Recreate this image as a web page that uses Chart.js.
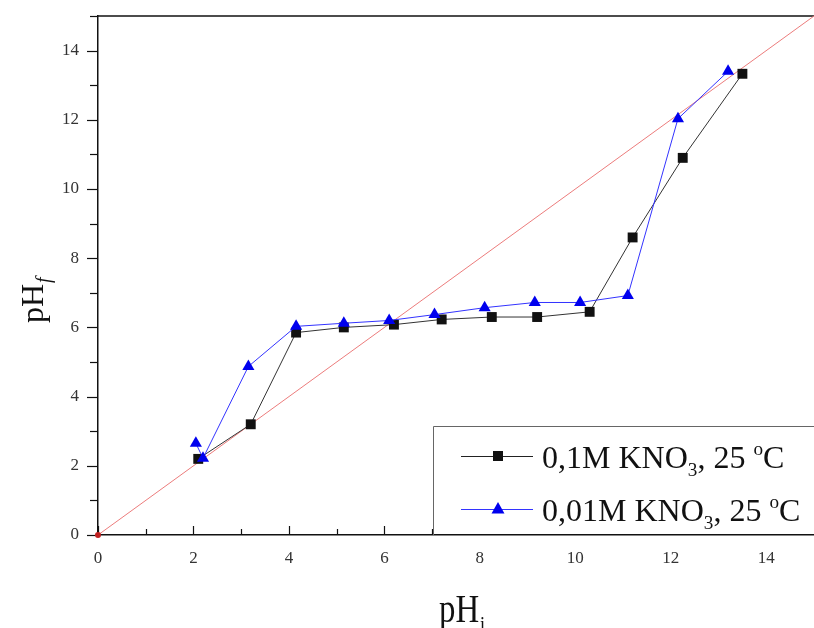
<!DOCTYPE html>
<html>
<head>
<meta charset="utf-8">
<script src="https://cdn.jsdelivr.net/npm/chart.js@4.4.1/dist/chart.umd.min.js"></script>
<style>
  html, body { margin: 0; padding: 0; background: #fff; }
  canvas { display: block; }
</style>
</head>
<body>
<canvas id="chart1" width="814" height="628"></canvas>
<script>
// 0,1M KNO3 series (initial pH -> final pH)
const phInitialA = [2.1, 3.2, 4.15, 5.15, 6.2, 7.2, 8.25, 9.2, 10.3, 11.2, 12.25, 13.5];
const phFinalA   = [2.2, 3.2, 5.85, 6.0, 6.08, 6.23, 6.3, 6.3, 6.45, 8.6, 10.9, 13.33];

// 0,01M KNO3 series
const phInitialB = [2.05, 2.2, 3.15, 4.15, 5.15, 6.1, 7.05, 8.1, 9.15, 10.1, 11.1, 12.15, 13.2];
const phFinalB   = [2.65, 2.22, 4.87, 6.03, 6.12, 6.2, 6.37, 6.57, 6.72, 6.72, 6.92, 12.03, 13.4];

// reference line pHf = pHi
const diagonalX = [0, 15];
const diagonalY = [0, 15];

const axisMin = 0;
const axisMax = 15;

const legendItems = [
  { parts: [{ t: '0,1M KNO' }, { t: '3', sub: true }, { t: ', 25 ' }, { t: 'o', sup: true }, { t: 'C' }], color: '#111', line: '#222', marker: 'rect' },
  { parts: [{ t: '0,01M KNO' }, { t: '3', sub: true }, { t: ', 25 ' }, { t: 'o', sup: true }, { t: 'C' }], color: '#0000ee', line: '#3333ff', marker: 'triangle' }
];

const serif = '"Liberation Serif", "DejaVu Serif", serif';

function toPoints(xs, ys) {
  return xs.map((x, i) => ({ x: x, y: ys[i] }));
}

// draws text pieces with sub/superscripts, returns end x
function drawRich(ctx, parts, x, y, size) {
  parts.forEach(p => {
    if (p.sub) {
      ctx.font = (size * 0.6) + 'px ' + serif;
      ctx.fillText(p.t, x, y + size * 0.25);
    } else if (p.sup) {
      ctx.font = (size * 0.6) + 'px ' + serif;
      ctx.fillText(p.t, x, y - size * 0.4);
    } else {
      ctx.font = size + 'px ' + serif;
      ctx.fillText(p.t, x, y);
    }
    x += ctx.measureText(p.t).width;
  });
  return x;
}

// fixed axis box, no extra room for edge labels
function fixBox(size, horizontal) {
  return s => {
    if (horizontal) s.height = size; else s.width = size;
    s.paddingTop = 0;
    s.paddingBottom = 0;
    s.paddingLeft = 0;
    s.paddingRight = 0;
  };
}

const ctx = document.getElementById('chart1').getContext('2d');

new Chart(ctx, {
  type: 'scatter',
  data: {
    datasets: [
      {
        data: toPoints(phInitialB, phFinalB),
        showLine: true,
        borderColor: '#3333ff',
        borderWidth: 1,
        pointStyle: 'triangle',
        pointRadius: 7,
        pointBackgroundColor: '#0000ee',
        pointBorderColor: '#0000ee',
        pointBorderWidth: 0,
        order: 0
      },
      {
        data: toPoints(phInitialA, phFinalA),
        showLine: true,
        borderColor: '#333',
        borderWidth: 1,
        pointStyle: 'rect',
        pointRadius: 7,
        pointBackgroundColor: '#111',
        pointBorderColor: '#111',
        pointBorderWidth: 0,
        order: 1
      },
      {
        data: toPoints(diagonalX, diagonalY),
        showLine: true,
        borderColor: '#ec7c7c',
        borderWidth: 1,
        pointRadius: [3, 0],
        pointBackgroundColor: '#c02020',
        pointBorderWidth: 0,
        clip: false,
        order: 2
      }
    ]
  },
  options: {
    responsive: false,
    animation: false,
    layout: { autoPadding: false, padding: { top: 16, right: 0, left: 0, bottom: 0 } },
    plugins: {
      legend: { display: false },
      tooltip: { enabled: false }
    },
    scales: {
      x: {
        type: 'linear',
        min: axisMin,
        max: axisMax,
        afterFit: fixBox(93, true),
        grid: { display: false, drawTicks: false, tickLength: 0 },
        border: { display: true, color: '#111', width: 1.5 },
        ticks: {
          stepSize: 2,
          includeBounds: false,
          maxRotation: 0,
          padding: 13,
          color: '#333',
          font: { family: serif, size: 17 }
        }
      },
      y: {
        type: 'linear',
        min: axisMin,
        max: axisMax,
        afterFit: fixBox(98, false),
        grid: { display: false, drawTicks: false, tickLength: 0 },
        border: { display: true, color: '#111', width: 1.5 },
        ticks: {
          stepSize: 2,
          includeBounds: false,
          padding: 19,
          color: '#333',
          font: { family: serif, size: 17 }
        }
      }
    }
  },
  plugins: [{
    id: 'frameAndText',
    beforeDatasetsDraw(chart) {
      const c = chart.ctx;
      const area = chart.chartArea;
      const xs = chart.scales.x;
      const ys = chart.scales.y;
      c.save();
      c.strokeStyle = '#111';
      c.lineWidth = 1.2;
      // tick marks: x inward, y outward
      for (let v = 0; v <= 15; v++) {
        const len = v % 2 === 0 ? 9 : 6;
        const px = Math.round(xs.getPixelForValue(v)) + 0.5;
        c.beginPath();
        c.moveTo(px, area.bottom);
        c.lineTo(px, area.bottom - len);
        c.stroke();
        const py = Math.round(ys.getPixelForValue(v)) + 0.5;
        c.beginPath();
        c.moveTo(area.left, py);
        c.lineTo(area.left - len - 2, py);
        c.stroke();
      }
      // top frame line
      c.lineWidth = 1.5;
      c.beginPath();
      c.moveTo(area.left, area.top);
      c.lineTo(area.right, area.top);
      c.stroke();
      c.restore();
    },
    afterDraw(chart) {
      const c = chart.ctx;
      const area = chart.chartArea;
      c.save();
      c.fillStyle = '#111';
      c.textBaseline = 'alphabetic';

      // x axis title: pH with subscript i (slightly condensed)
      c.save();
      c.translate(439, 622);
      c.scale(0.82, 1);
      let end = drawRich(c, [{ t: 'pH' }], 0, 0, 40);
      c.font = '22px ' + serif;
      c.fillText('i', end + 1, 9);
      c.restore();

      // y axis title: pH with subscript f, rotated
      c.save();
      c.translate(43, 323);
      c.rotate(-Math.PI / 2);
      end = drawRich(c, [{ t: 'pH' }], 0, 0, 32);
      c.font = 'italic 20px ' + serif;
      c.fillText('f', end + 1, 7);
      c.restore();

      // legend box
      const bx = 433.5, by = 426.5;
      c.fillStyle = '#fff';
      c.fillRect(bx, by, area.right - bx, area.bottom - by - 1);
      c.strokeStyle = '#666';
      c.lineWidth = 1;
      c.beginPath();
      c.moveTo(area.right, by);
      c.lineTo(bx, by);
      c.lineTo(bx, area.bottom);
      c.stroke();

      legendItems.forEach((item, i) => {
        const ly = 456 + i * 53;
        c.strokeStyle = item.line;
        c.lineWidth = 1;
        c.beginPath();
        c.moveTo(461, ly + 0.5);
        c.lineTo(533, ly + 0.5);
        c.stroke();
        c.fillStyle = item.color;
        if (item.marker === 'rect') {
          c.fillRect(493, ly - 5, 10, 10);
        } else {
          c.beginPath();
          c.moveTo(498, ly - 7);
          c.lineTo(504.5, ly + 4.5);
          c.lineTo(491.5, ly + 4.5);
          c.closePath();
          c.fill();
        }
        c.fillStyle = '#111';
        drawRich(c, item.parts, 542, ly + 12, 32);
      });
      c.restore();
    }
  }]
});
</script>
</body>
</html>
